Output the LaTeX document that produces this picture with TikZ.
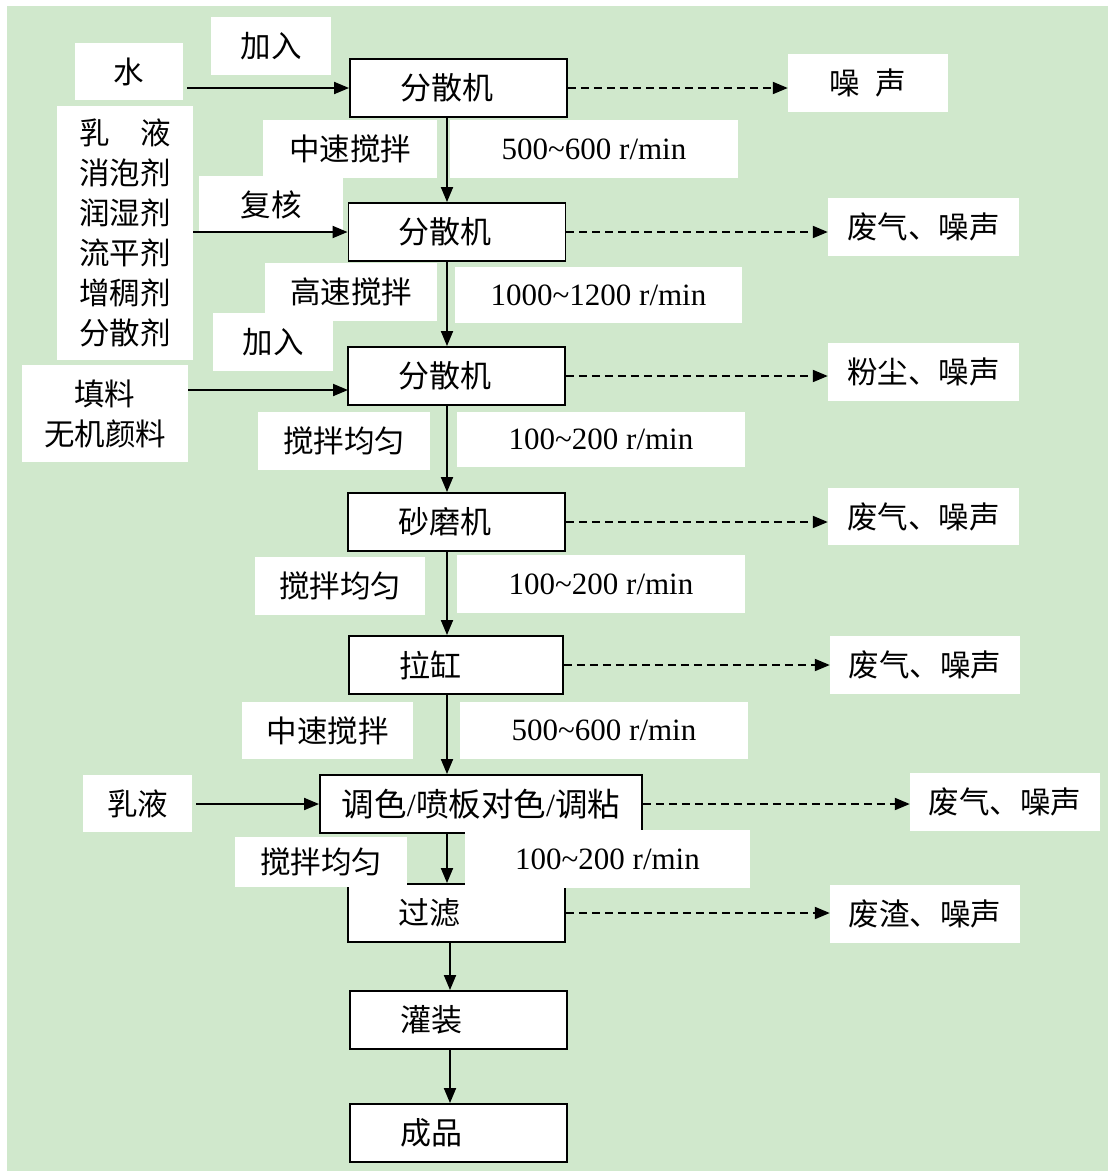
\documentclass[tikz,border=0pt]{standalone}
\usepackage{fontspec}
\setmainfont{Liberation Serif}
\newfontfamily\cjk{Noto Sans CJK SC}
\usetikzlibrary{arrows.meta}
\definecolor{bggreen}{RGB}{208,232,204}
\begin{document}
\begin{tikzpicture}[x=1pt,y=-1pt,
  mainbox/.style={draw=black, line width=1.9pt, fill=white, minimum height=58pt, inner xsep=50pt, inner ysep=0pt, text width=117pt, align=left, font=\cjk\fontsize{31}{36}\selectfont},
  lab/.style={fill=white, inner sep=0pt, align=center, font=\cjk\fontsize{30.5}{40}\selectfont},
  numlab/.style={fill=white, inner sep=0pt, font=\rmfamily\fontsize{31}{36}\selectfont},
  arr/.style={line width=1.9pt, -{Triangle[length=15pt,width=12pt]}},
  darr/.style={arr, dash pattern=on 8pt off 5pt},
]
\fill[white] (0,0) rectangle (1108,1171);
\fill[bggreen] (7,6) rectangle (1108,1171);
\useasboundingbox (0,0) rectangle (1108,1171);

% main process boxes
\node[mainbox] (b1) at (458.5,88) {分散机};
\node[mainbox] (b2) at (457,232) {分散机};
\node[mainbox] (b3) at (456.5,376) {分散机};
\node[mainbox] (b4) at (456.5,522) {砂磨机};
\node[mainbox, text width=114pt] (b5) at (456,665) {拉缸};
\node[mainbox, inner xsep=0pt, text width=322pt, align=center, font=\cjk\fontsize{32.5}{40}\selectfont] (b6) at (481,804) {调色{\rmfamily/}喷板对色{\rmfamily/}调粘};
\node[mainbox] (b7) at (456.5,913) {过滤};
\node[mainbox] (b8) at (458.5,1020) {灌装};
\node[mainbox] (b9) at (458.5,1133) {成品};

% input labels
\node[lab, minimum width=108pt, minimum height=57pt] (w) at (129,71.5) {水};
\node[lab, minimum width=120pt, minimum height=58pt] (j1) at (271,46) {加入};
\node[lab, minimum width=136pt, minimum height=254pt] (lst) at (125,233) {乳\hspace{1em}液\\消泡剂\\润湿剂\\流平剂\\增稠剂\\分散剂};
\node[lab, minimum width=144pt, minimum height=57pt] (fh) at (271,204.5) {复核};
\node[lab, minimum width=120pt, minimum height=58pt] (j2) at (273,342) {加入};
\node[lab, minimum width=166pt, minimum height=97pt] (fl) at (105,413.5) {填料\\无机颜料};
\node[lab, minimum width=109pt, minimum height=57pt] (ry) at (137.5,803.5) {乳液};

% step labels
\node[lab, minimum width=174pt, minimum height=58pt] (s1) at (350,149) {中速搅拌};
\node[numlab, minimum width=288pt, minimum height=58pt] (r1) at (594,149) {500\char`~600 r/min};
\node[lab, minimum width=172pt, minimum height=58pt] (s2) at (351,292) {高速搅拌};
\node[numlab, minimum width=287pt, minimum height=56pt] (r2) at (598.5,295) {1000\char`~1200 r/min};
\node[lab, minimum width=172pt, minimum height=58pt] (s3) at (344,441) {搅拌均匀};
\node[numlab, minimum width=288pt, minimum height=55pt] (r3) at (601,439.5) {100\char`~200 r/min};
\node[lab, minimum width=170pt, minimum height=58pt] (s4) at (340,586) {搅拌均匀};
\node[numlab, minimum width=288pt, minimum height=58pt] (r4) at (601,584) {100\char`~200 r/min};
\node[lab, minimum width=171pt, minimum height=57pt] (s5) at (327.5,730.5) {中速搅拌};
\node[numlab, minimum width=288pt, minimum height=57pt] (r5) at (604,730.5) {500\char`~600 r/min};
\node[lab, minimum width=172pt, minimum height=50pt] (s6) at (321,862) {搅拌均匀};
\node[numlab, minimum width=285pt, minimum height=58pt] (r6) at (607.5,859) {100\char`~200 r/min};

% output labels
\node[lab, minimum width=160pt, minimum height=58pt] (o1) at (868,83) {噪\hspace{0.5em}声};
\node[lab, minimum width=191pt, minimum height=58pt] (o2) at (923.5,227) {废气、噪声};
\node[lab, minimum width=191pt, minimum height=58pt] (o3) at (923.5,372) {粉尘、噪声};
\node[lab, minimum width=191pt, minimum height=57pt] (o4) at (923.5,516.5) {废气、噪声};
\node[lab, minimum width=190pt, minimum height=58pt] (o5) at (925,665) {废气、噪声};
\node[lab, minimum width=190pt, minimum height=58pt] (o6) at (1005,802) {废气、噪声};
\node[lab, minimum width=190pt, minimum height=58pt] (o7) at (925,914) {废渣、噪声};

% connectors
\coordinate (ax) at (447,0);
\coordinate (bx) at (450,0);
\coordinate (f3) at (348,390);
\draw[arr] (b1.south -| ax) -- (b2.north -| ax);
\draw[arr] (b2.south -| ax) -- (b3.north -| ax);
\draw[arr] (b3.south -| ax) -- (b4.north -| ax);
\draw[arr] (b4.south -| ax) -- (b5.north -| ax);
\draw[arr] (b5.south -| ax) -- (b6.north -| ax);
\draw[arr] (b6.south -| ax) -- (b7.north -| ax);
\draw[arr] (b7.south -| bx) -- (b8.north -| bx);
\draw[arr] (b8.south -| bx) -- (b9.north -| bx);

\draw[arr] ([xshift=4pt]w.east |- b1.west) -- (b1.west);
\draw[arr] (lst.east |- b2.west) -- (b2.west);
\draw[arr] (fl.east |- f3) -- (f3);
\draw[arr] ([xshift=4pt]ry.east |- b6.west) -- (b6.west);

\draw[darr] (b1.east) -- (b1.east -| o1.west);
\draw[darr] (b2.east) -- (b2.east -| o2.west);
\draw[darr] (b3.east) -- (b3.east -| o3.west);
\draw[darr] (b4.east) -- (b4.east -| o4.west);
\draw[darr] (b5.east) -- (b5.east -| o5.west);
\draw[darr] (b6.east) -- (b6.east -| o6.west);
\draw[darr] (b7.east) -- (b7.east -| o7.west);
\end{tikzpicture}
\end{document}
